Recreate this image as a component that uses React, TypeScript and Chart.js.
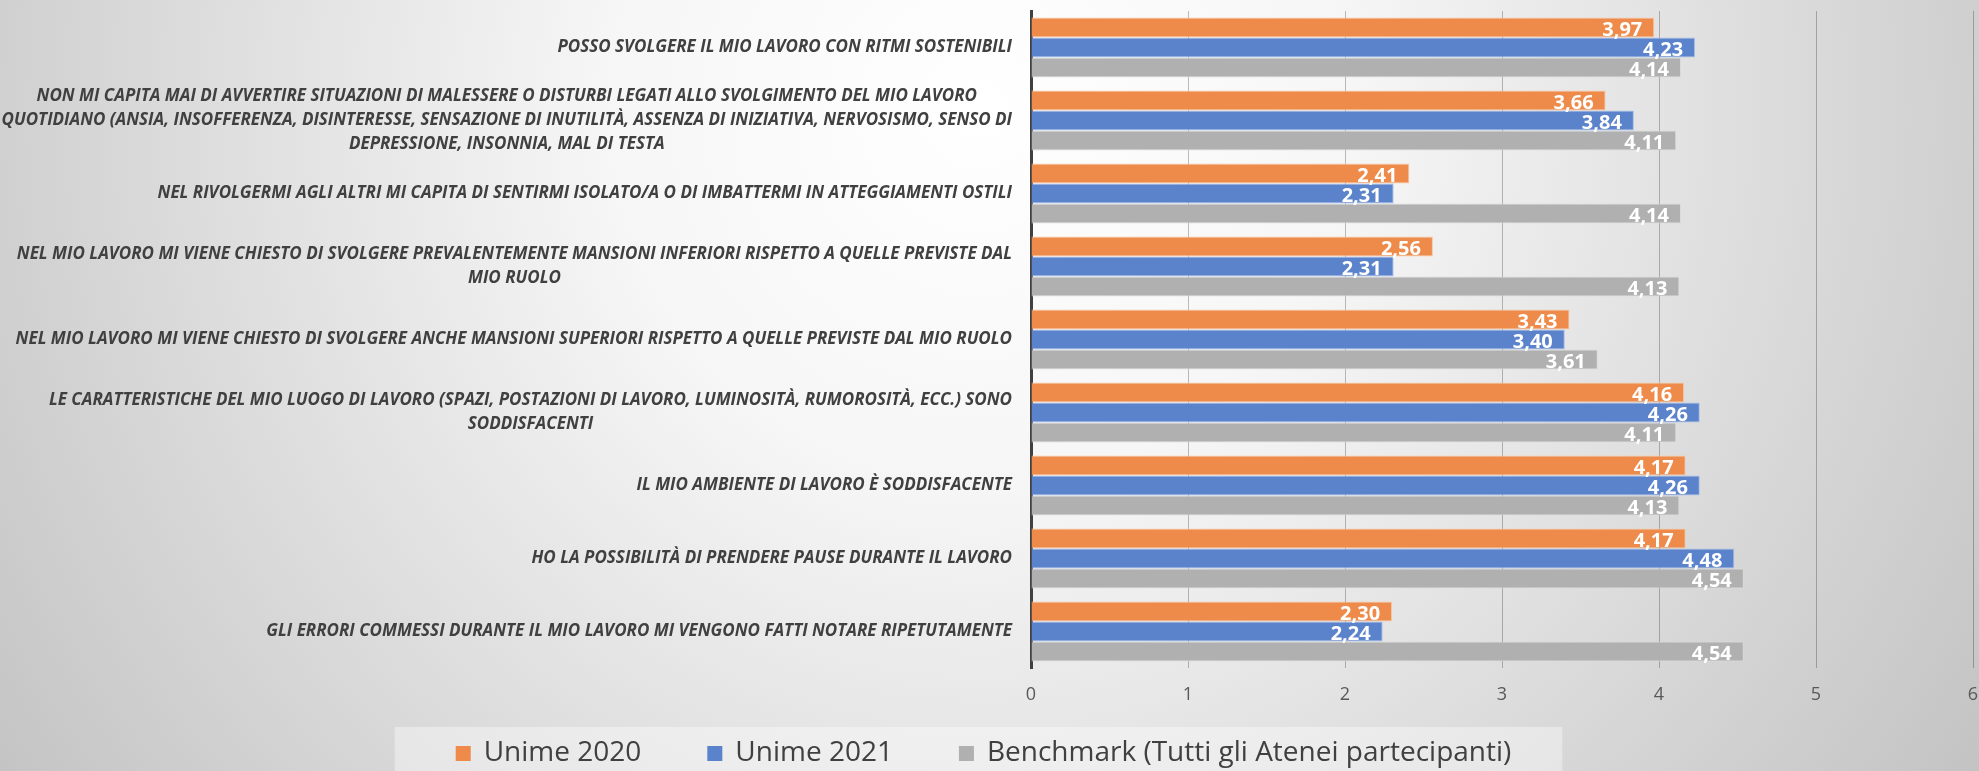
import React, { useEffect, useRef } from "react";
import { Chart, registerables } from "chart.js";

Chart.register(...registerables);

const categories: string[][] = [
  ["POSSO SVOLGERE IL MIO LAVORO CON RITMI SOSTENIBILI"],
  [
    "NON MI CAPITA MAI DI AVVERTIRE SITUAZIONI DI MALESSERE O DISTURBI LEGATI ALLO SVOLGIMENTO DEL MIO LAVORO",
    "QUOTIDIANO (ANSIA, INSOFFERENZA, DISINTERESSE, SENSAZIONE DI INUTILITÀ, ASSENZA DI INIZIATIVA, NERVOSISMO, SENSO DI",
    "DEPRESSIONE, INSONNIA, MAL DI TESTA",
  ],
  ["NEL RIVOLGERMI AGLI ALTRI MI CAPITA DI SENTIRMI ISOLATO/A O DI IMBATTERMI IN ATTEGGIAMENTI OSTILI"],
  [
    "NEL MIO LAVORO MI VIENE CHIESTO DI SVOLGERE PREVALENTEMENTE MANSIONI INFERIORI RISPETTO A QUELLE PREVISTE DAL",
    "MIO RUOLO",
  ],
  ["NEL MIO LAVORO MI VIENE CHIESTO DI SVOLGERE ANCHE MANSIONI SUPERIORI RISPETTO A QUELLE PREVISTE DAL MIO RUOLO"],
  [
    "LE CARATTERISTICHE DEL MIO LUOGO DI LAVORO (SPAZI, POSTAZIONI DI LAVORO, LUMINOSITÀ, RUMOROSITÀ, ECC.) SONO",
    "SODDISFACENTI",
  ],
  ["IL MIO AMBIENTE DI LAVORO È SODDISFACENTE"],
  ["HO LA POSSIBILITÀ DI PRENDERE PAUSE DURANTE IL LAVORO"],
  ["GLI ERRORI COMMESSI DURANTE IL MIO LAVORO MI VENGONO FATTI NOTARE RIPETUTAMENTE"],
];

const seriesNames = ["Unime 2020", "Unime 2021", "Benchmark (Tutti gli Atenei partecipanti)"];
const unime2020 = [3.97, 3.66, 2.41, 2.56, 3.43, 4.16, 4.17, 4.17, 2.3];
const unime2021 = [4.23, 3.84, 2.31, 2.31, 3.4, 4.26, 4.26, 4.48, 2.24];
const benchmark = [4.14, 4.11, 4.14, 4.13, 3.61, 4.11, 4.13, 4.54, 4.54];
const xTicks = [0, 1, 2, 3, 4, 5, 6];

const COLORS = ["#ef8b4a", "#5b83cc", "#b0b0b0"];
const BORDERS = ["#f8c7a4", "#a9c0ea", "#dadada"];

const W = 1979;
const H = 771;
const LABEL_FONT = 'italic bold 17px "Open Sans"';
const CONDENSE = 1.0;
const TEXT_COLOR = "#404040";

const bgPlugin = {
  id: "bg",
  beforeDraw(chart: any) {
    const ctx = chart.ctx;
    ctx.save();
    const g = ctx.createRadialGradient(980, 110, 0, 980, 110, 1250);
    g.addColorStop(0, "#ffffff");
    g.addColorStop(0.3, "#f6f6f6");
    g.addColorStop(0.75, "#d3d3d3");
    g.addColorStop(1, "#c0c0c0");
    ctx.fillStyle = g;
    ctx.fillRect(0, 0, chart.width, chart.height);
    ctx.restore();
  },
};

const yLabelPlugin = {
  id: "ylabels",
  afterDraw(chart: any) {
    const ctx = chart.ctx;
    const y = chart.scales.y;
    const right = chart.chartArea.left - 19;
    ctx.save();
    ctx.font = LABEL_FONT;
    ctx.fillStyle = TEXT_COLOR;
    ctx.textBaseline = "middle";
    ctx.textAlign = "center";
    const lh = 24;
    categories.forEach((lines, i) => {
      const cy = y.getPixelForValue(i);
      const widths = lines.map((l) => ctx.measureText(l).width * CONDENSE);
      const bw = Math.max(...widths);
      const cx = right - bw / 2;
      lines.forEach((l, k) => {
        const ly = cy + (k - (lines.length - 1) / 2) * lh;
        ctx.fillText(l, cx, ly, widths[k]);
      });
    });
    ctx.restore();
  },
};

const valueLabelPlugin = {
  id: "vlabels",
  afterDatasetsDraw(chart: any) {
    const ctx = chart.ctx;
    ctx.save();
    ctx.font = 'bold 20px "Open Sans"';
    ctx.fillStyle = "#ffffff";
    ctx.textAlign = "right";
    ctx.textBaseline = "middle";
    chart.data.datasets.forEach((ds: any, di: number) => {
      const meta = chart.getDatasetMeta(di);
      meta.data.forEach((bar: any, i: number) => {
        const v = ds.data[i] as number;
        ctx.fillText(v.toFixed(2).replace(".", ","), bar.x - 12, bar.y + 3);
      });
    });
    ctx.restore();
  },
};

const legendPlugin = {
  id: "customLegend",
  afterDraw(chart: any) {
    const ctx = chart.ctx;
    ctx.save();
    ctx.font = '28px "Open Sans"';
    const box = 15;
    const gapText = 13;
    const gapItem = 66;
    const items = chart.data.datasets.map((ds: any) => ({
      label: ds.label,
      color: ds.backgroundColor,
      w: box + gapText + ctx.measureText(ds.label).width,
    }));
    const total = items.reduce((s: number, it: any) => s + it.w, 0) + gapItem * (items.length - 1);
    let x = chart.width / 2 - 6 - total / 2;
    const cy = 753;
    ctx.fillStyle = "rgba(255,255,255,0.38)";
    ctx.fillRect(x - 61, 727, total + 61 + 51, 60);
    ctx.textBaseline = "middle";
    ctx.textAlign = "left";
    items.forEach((it: any) => {
      ctx.fillStyle = it.color;
      ctx.fillRect(x, cy - 7, box, box);
      ctx.fillStyle = TEXT_COLOR;
      ctx.fillText(it.label, x + box + gapText, cy);
      x += it.w + gapItem;
    });
    ctx.restore();
  },
};

export default function App() {
  const ref = useRef<HTMLCanvasElement | null>(null);
  useEffect(() => {
    document.body.style.margin = "0";
    document.body.style.overflow = "hidden";
    const canvas = ref.current!;
    const datasets = [unime2020, unime2021, benchmark].map((d, i) => ({
      label: seriesNames[i],
      data: d,
      backgroundColor: COLORS[i],
      borderColor: BORDERS[i],
      borderWidth: 1,
      categoryPercentage: 0.82,
      barPercentage: 1,
    }));
    const chart = new Chart(canvas, {
      type: "bar",
      data: { labels: categories.map((c) => c.join(" ")), datasets },
      options: {
        indexAxis: "y",
        responsive: false,
        animation: false,
        devicePixelRatio: 1,
        layout: { padding: { top: 11, right: 6, bottom: 0, left: 0 } },
        plugins: { legend: { display: false }, tooltip: { enabled: false } },
        scales: {
          x: {
            min: 0,
            max: 6,
            afterBuildTicks: (s: any) => {
              s.ticks = xTicks.map((v) => ({ value: v }));
            },
            afterFit: (s: any) => {
              s.paddingLeft = 0;
              s.paddingRight = 0;
              s.height = 103;
            },
            ticks: {
              font: { family: "Open Sans", size: 18 },
              color: "#595959",
              padding: 16,
            },
            grid: { color: "rgba(0,0,0,0.25)", lineWidth: 1, drawTicks: false },
            border: { display: false },
          },
          y: {
            type: "category",
            offset: true,
            grid: { display: false },
            ticks: { display: false },
            border: { display: true, color: "#404040", width: 3 },
            afterFit: (s: any) => {
              s.width = 1031;
            },
          },
        },
      },
      plugins: [bgPlugin, valueLabelPlugin, yLabelPlugin, legendPlugin],
    } as any);
    return () => chart.destroy();
  }, []);
  return <canvas ref={ref} width={W} height={H} style={{ display: "block" }} />;
}
